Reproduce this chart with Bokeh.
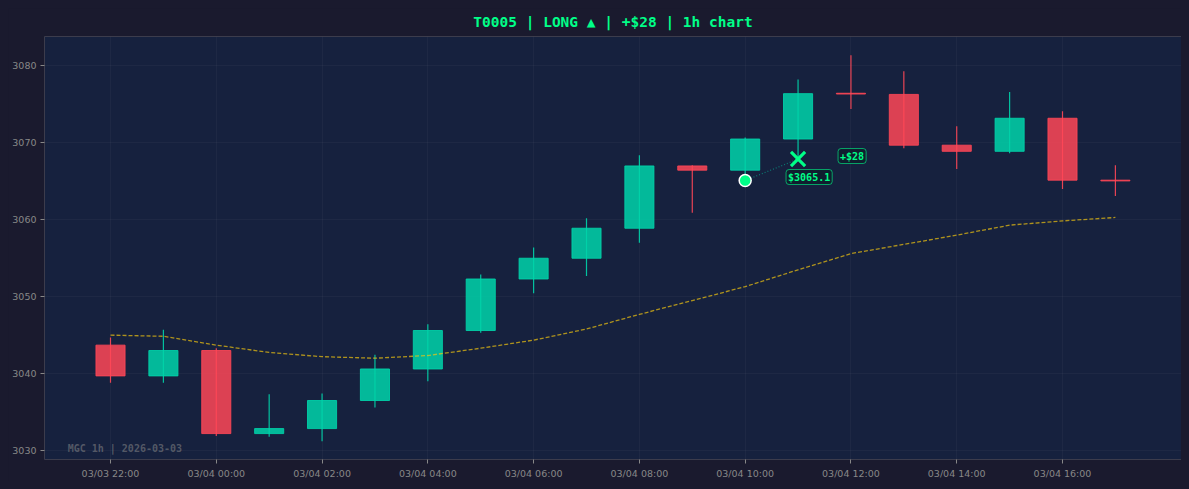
from bokeh.plotting import figure
from bokeh.models import FixedTicker, Label, ColumnDataSource, Range1d
from bokeh.embed import file_html
from bokeh.resources import INLINE

# ---- data ----
times = ["03/03 22:00", "03/03 23:00", "03/04 00:00", "03/04 01:00", "03/04 02:00",
         "03/04 03:00", "03/04 04:00", "03/04 05:00", "03/04 06:00", "03/04 07:00",
         "03/04 08:00", "03/04 09:00", "03/04 10:00", "03/04 11:00", "03/04 12:00",
         "03/04 13:00", "03/04 14:00", "03/04 15:00", "03/04 16:00", "03/04 17:00"]
opens = [3043.7, 3039.7, 3043.0, 3032.2, 3032.85, 3036.5, 3040.6, 3045.6, 3052.3, 3055.0,
         3058.9, 3067.0, 3066.45, 3070.5, 3076.45, 3076.3, 3069.7, 3068.9, 3073.2, 3065.15]
closes = [3039.7, 3043.0, 3032.2, 3032.85, 3036.5, 3040.6, 3045.6, 3052.3, 3055.0, 3058.9,
          3067.0, 3066.45, 3070.5, 3076.4, 3076.35, 3069.7, 3068.9, 3073.2, 3065.15, 3065.05]
highs = [3044.7, 3045.7, 3043.3, 3037.3, 3037.4, 3042.45, 3046.4, 3052.9, 3056.4, 3060.2,
         3068.4, 3067.1, 3070.7, 3078.25, 3081.4, 3079.3, 3072.15, 3076.6, 3074.1, 3067.1]
lows = [3038.8, 3038.8, 3031.9, 3031.8, 3031.2, 3035.6, 3039.0, 3045.3, 3050.45, 3052.7,
        3057.0, 3060.9, 3065.1, 3068.0, 3074.4, 3069.3, 3066.6, 3068.65, 3064.0, 3063.1]
ma = [3045.0, 3044.85, 3043.7, 3042.75, 3042.2, 3042.0, 3042.35, 3043.3, 3044.35, 3045.8,
      3047.7, 3049.5, 3051.3, 3053.5, 3055.6, 3056.8, 3058.0, 3059.3, 3059.85, 3060.3]
y_ticks = [3030, 3040, 3050, 3060, 3070, 3080]
entry_idx, entry_price = 12, 3065.1
exit_idx, exit_price = 13, 3067.9
pnl_text = "+$28"
title_text = "T0005 | LONG \u25b2 | +$28 | 1h chart"
watermark_text = "MGC 1h | 2026-03-03"

# ---- styles ----
PAGE_BG = "#1a1a2e"
PLOT_BG = "#16213e"
GREEN = "#00d4aa"
RED = "#ff4757"
BRIGHT = "#00ff88"
MONO = "DejaVu Sans Mono"

idx = list(range(len(times)))
colors = [GREEN if c > o else RED for o, c in zip(opens, closes)]
src = ColumnDataSource(dict(
    x=idx,
    top=[max(o, c) for o, c in zip(opens, closes)],
    bottom=[min(o, c) for o, c in zip(opens, closes)],
    high=highs, low=lows, color=colors,
))

p = figure(width=1174, height=473, output_backend="svg", toolbar_location=None,
           x_range=Range1d(-1.248, 20.25), y_range=Range1d(3028.83, 3083.83),
           min_border_left=36, min_border_right=1, min_border_top=27, min_border_bottom=22,
           background_fill_color=PLOT_BG, border_fill_color=PAGE_BG,
           outline_line_color="#3c3c4c", outline_line_width=1)

p.title.text = title_text
p.title.align = "center"
p.title.vertical_align = "top"
p.title.text_color = BRIGHT
p.title.text_font = MONO
p.title.text_font_size = "14.5px"
p.title.text_font_style = "bold"

xt = FixedTicker(ticks=idx[::2])
p.xaxis.ticker = xt
p.xgrid.ticker = xt
p.xaxis.major_label_overrides = {i: times[i] for i in idx[::2]}
yt = FixedTicker(ticks=y_ticks)
p.yaxis.ticker = yt
p.ygrid.ticker = yt

p.axis.axis_line_color = None
p.axis.major_tick_line_color = "#888888"
p.axis.major_tick_out = 4
p.axis.major_tick_in = 0
p.axis.minor_tick_line_color = None
p.axis.major_label_text_color = "#888888"
p.axis.major_label_text_font = "DejaVu Sans"
p.axis.major_label_text_font_size = "9.5px"
p.xaxis.major_label_standoff = 4
p.yaxis.major_label_standoff = 4
p.grid.grid_line_color = "#ffffff"
p.grid.grid_line_alpha = 0.035

# candle bodies
p.vbar(x="x", width=0.55, top="top", bottom="bottom", source=src,
       fill_color="color", fill_alpha=0.85, line_color="color", line_alpha=0.85, line_width=1)
# wicks
p.segment(x0="x", y0="low", x1="x", y1="high", source=src,
          line_color="color", line_width=1.2, line_alpha=0.9)

# moving average
p.line(idx, ma, line_color="#f1c40f", line_alpha=0.7, line_width=1.3, line_dash="4 2")

# trade path
p.line([entry_idx, exit_idx], [entry_price, exit_price], line_color=GREEN,
       line_alpha=0.5, line_width=1.2, line_dash="1 2")
p.scatter([entry_idx], [entry_price], size=12, fill_color=BRIGHT,
          line_color="white", line_width=1.5)
p.scatter([exit_idx], [exit_price], marker="x", size=20, line_color=BRIGHT, line_width=3.2)

p.add_layout(Label(x=exit_idx, y=exit_price, text=f"${entry_price}", x_offset=-12, y_offset=-18,
                   text_align="left", text_baseline="middle", text_color=BRIGHT,
                   text_font=MONO, text_font_size="10px", text_font_style="bold",
                   background_fill_color="#0f1e2e", background_fill_alpha=0.9,
                   border_line_color=BRIGHT, border_line_alpha=0.6, border_line_width=1,
                   padding=2, border_radius=3))
p.add_layout(Label(x=exit_idx, y=exit_price, text=pnl_text, x_offset=40, y_offset=3,
                   text_align="left", text_baseline="middle", text_color=BRIGHT,
                   text_font=MONO, text_font_size="10px", text_font_style="bold",
                   background_fill_color="#0f1e2e", background_fill_alpha=0.9,
                   border_line_color=BRIGHT, border_line_alpha=0.6, border_line_width=1,
                   padding=2, border_radius=3))

p.add_layout(Label(x=-0.81, y=3030.25, text=watermark_text, text_align="left",
                   text_baseline="middle", text_color="#888888", text_alpha=0.55,
                   text_font=MONO, text_font_size="10px", text_font_style="bold"))

html = file_html(p, INLINE, title="chart")
html = html.replace("</head>", "<style>body{background:#1a1a2e;margin:8px;}</style></head>", 1)
open("out.html", "w").write(html)
